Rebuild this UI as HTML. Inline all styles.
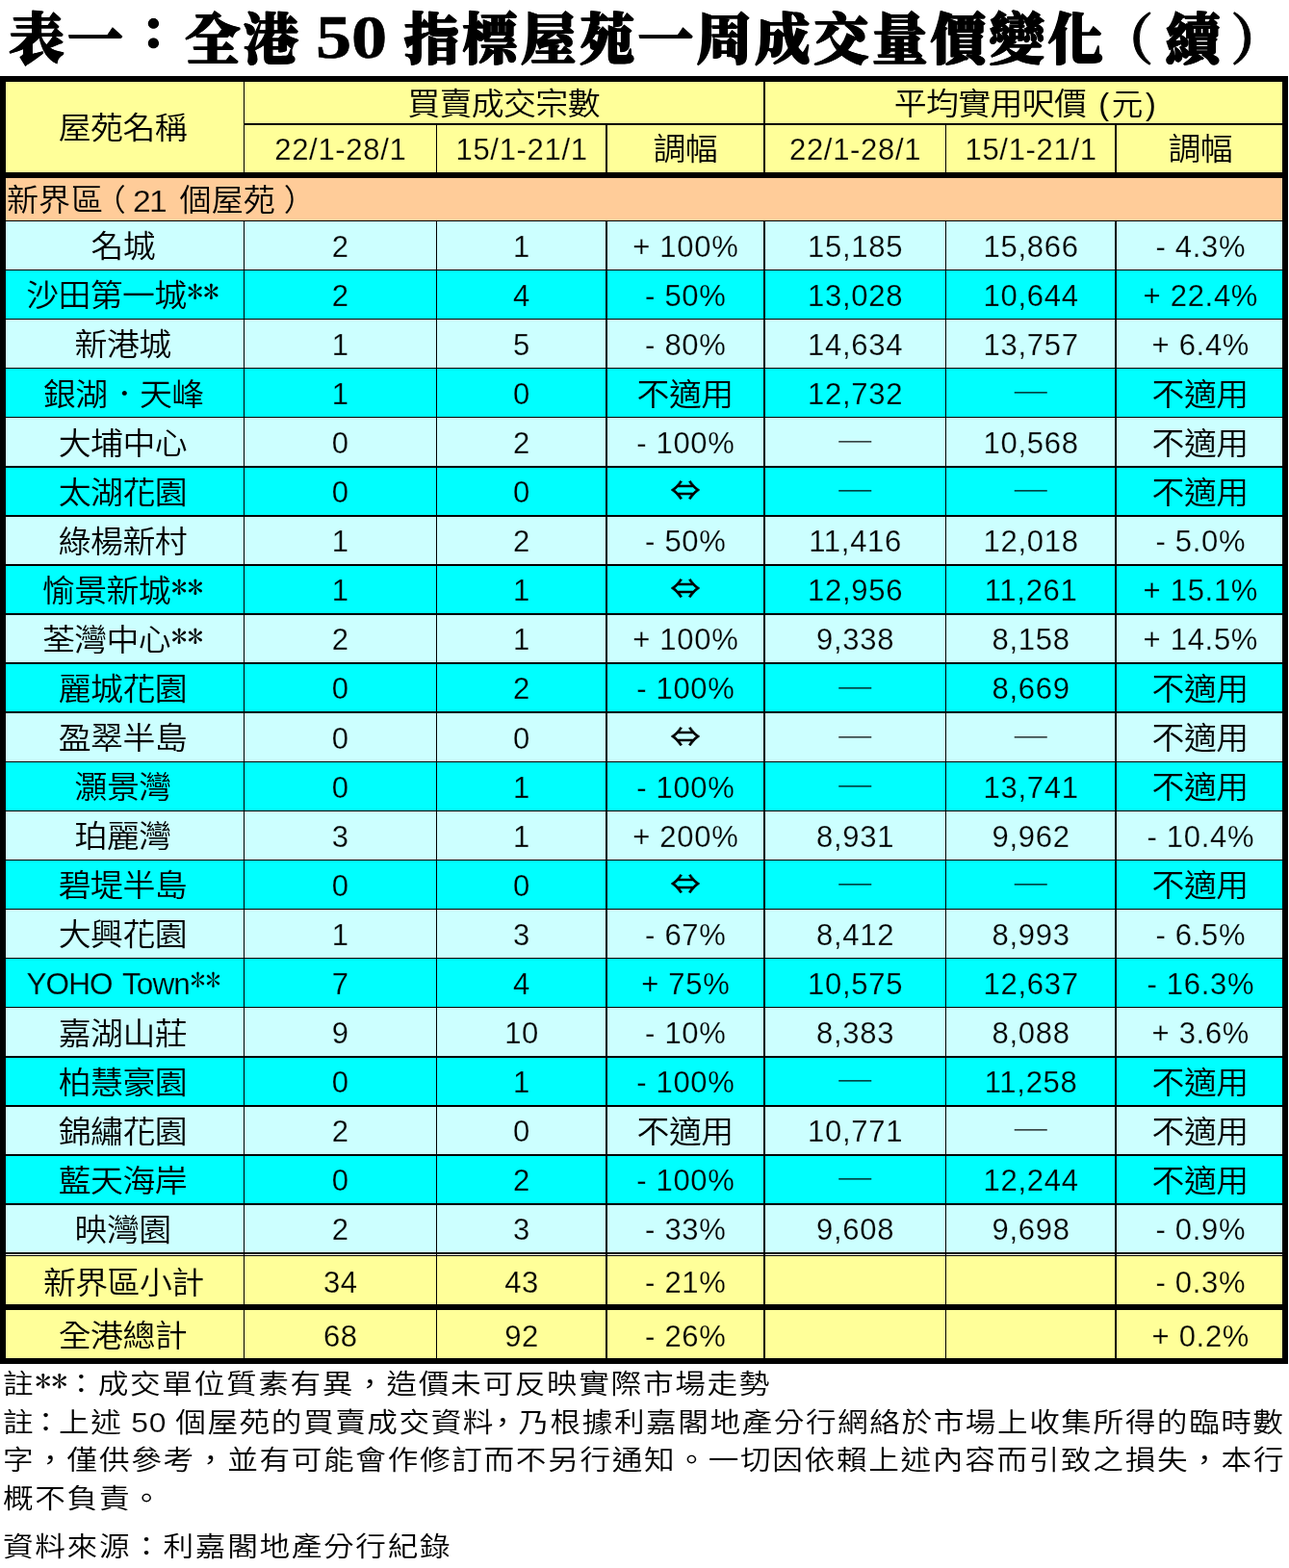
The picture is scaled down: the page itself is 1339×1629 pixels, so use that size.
<!DOCTYPE html>
<html lang="zh-Hant">
<head>
<meta charset="utf-8">
<title>表一：全港 50 指標屋苑一周成交量價變化（續）</title>
<style>
html,body{margin:0;padding:0;background:#fff;}
body{width:1339px;height:1629px;}
#page{position:relative;width:1339px;height:1629px;overflow:hidden;background:#fff;color:#000;
 font-family:"Liberation Sans","Noto Sans CJK TC","Noto Sans CJK SC",sans-serif;}
.grid{position:absolute;left:0;top:0;display:block;}
.title{position:absolute;top:2.5px;height:78px;white-space:nowrap;
 font-family:"Liberation Serif","Noto Serif CJK TC","Noto Serif CJK SC",serif;font-weight:900;font-size:57.3px;line-height:78px;
 letter-spacing:3.5px;-webkit-text-stroke:1.6px #000;text-shadow:0 1.1px 0 #000,0 -1.1px 0 #000;}
.t50{text-shadow:none;font-weight:700;font-size:64px;letter-spacing:0;-webkit-text-stroke:0.6px #000;transform:scaleX(1.16);transform-origin:0 50%;top:0;}
.c{position:absolute;display:flex;align-items:center;justify-content:center;white-space:nowrap;box-sizing:border-box;}
.c>span{display:inline-block;}
.c b{font-weight:400;font-family:"IPAGothic","Noto Sans CJK JP",sans-serif;font-size:32px;letter-spacing:0;position:relative;top:-3px;left:0;margin-left:.6px;}
.zh{font-size:32.3px;letter-spacing:-.6px;font-weight:350;}
.zh>span{margin-right:.6px;position:relative;top:-1.7px;transform:scaleX(1.05);}
.num{font-size:31px;letter-spacing:.7px;}
.num>span{position:relative;top:1.8px;margin-right:-.7px;}
.yoho{font-size:31.5px;letter-spacing:-.9px;word-spacing:3px;}
.dash{font-family:"WenQuanYi Zen Hei","Noto Sans CJK TC",sans-serif;font-size:34px;}
.dash>span{position:relative;top:-1px;}
.arr{font-family:"Noto Sans CJK TC","Noto Sans CJK SC","DejaVu Sans",sans-serif;font-size:31px;font-weight:400;}
.arr>span{position:relative;top:-2.6px;transform:scale(1.0,.92);-webkit-text-stroke:.5px #000;}
.sec{justify-content:flex-start;padding-left:1px;font-size:31.5px;letter-spacing:0;}
.sec>span{transform-origin:0 50%;}
.hd.zh>span{top:-2px;}
.hd.num>span{top:2px;}
.sec i{font-style:normal;font-size:32px;letter-spacing:-1.6px;margin:0 14px 0 -1.4px;position:relative;top:.5px;}
.sec u{text-decoration:none;position:relative;}
.title .col{position:relative;top:-5.5px;display:inline-block;transform:scale(.9,.8);letter-spacing:0;margin-right:3.5px;}
.title .par{position:relative;-webkit-text-stroke:1px #000;font-weight:700;text-shadow:none;}
.note{position:absolute;left:2.9px;white-space:nowrap;font-size:28.8px;line-height:40px;height:40px;font-weight:350;
 letter-spacing:1.48px;transform:scaleX(1.10);transform-origin:0 0;}
.note b{font-weight:400;font-family:"IPAGothic","Noto Sans CJK JP",sans-serif;font-size:31px;letter-spacing:0;position:relative;top:-2px;}
.note i{font-style:normal;font-family:"Liberation Sans",sans-serif;font-size:29px;letter-spacing:.8px;margin:0 -0.9px 0 -0.8px;}
.note .p1{margin:0 -3.6px 0 -4px;}
.note .p0{margin:0 0 0 -1.8px;}
.note .p2{margin:0 -1px 0 -7px;}
.note.l2{letter-spacing:1.36px;}
.c em{font-style:normal;letter-spacing:2.6px;margin-right:-7px;margin-left:1px;font-size:31px;}
.c .dot{display:inline-block;width:31.7px;text-align:center;font-size:23px;letter-spacing:0;position:relative;top:-3.4px;left:1px;}
.num.by>span{-webkit-text-stroke:.4px rgba(255,255,153,.55);}
.num.bl>span{-webkit-text-stroke:.4px rgba(204,255,255,.55);}
.num.bc>span{-webkit-text-stroke:.4px rgba(0,255,255,.55);}
.sec i{-webkit-text-stroke:.4px rgba(255,204,153,.55);}
.note i{-webkit-text-stroke:.4px rgba(255,255,255,.55);}
.c em{-webkit-text-stroke:0 transparent;}

</style>
</head>
<body>
<div id="page">
<svg class="grid" width="1339" height="1629" viewBox="0 0 1339 1629" shape-rendering="crispEdges">
<rect x="0" y="79" width="1338" height="1338" fill="#000"/>
<rect x="6" y="85" width="1326" height="94" fill="#FFFF99"/>
<rect x="6" y="185" width="1326" height="44" fill="#FFCC99"/>
<rect x="6" y="229" width="1326" height="51" fill="#CCFFFF"/>
<rect x="6" y="280" width="1326" height="51" fill="#00FFFF"/>
<rect x="6" y="331" width="1326" height="51" fill="#CCFFFF"/>
<rect x="6" y="382" width="1326" height="51" fill="#00FFFF"/>
<rect x="6" y="433" width="1326" height="51" fill="#CCFFFF"/>
<rect x="6" y="484" width="1326" height="51" fill="#00FFFF"/>
<rect x="6" y="535" width="1326" height="51" fill="#CCFFFF"/>
<rect x="6" y="586" width="1326" height="51" fill="#00FFFF"/>
<rect x="6" y="637" width="1326" height="51" fill="#CCFFFF"/>
<rect x="6" y="688" width="1326" height="51" fill="#00FFFF"/>
<rect x="6" y="739" width="1326" height="52" fill="#CCFFFF"/>
<rect x="6" y="791" width="1326" height="51" fill="#00FFFF"/>
<rect x="6" y="842" width="1326" height="51" fill="#CCFFFF"/>
<rect x="6" y="893" width="1326" height="51" fill="#00FFFF"/>
<rect x="6" y="944" width="1326" height="51" fill="#CCFFFF"/>
<rect x="6" y="995" width="1326" height="51" fill="#00FFFF"/>
<rect x="6" y="1046" width="1326" height="51" fill="#CCFFFF"/>
<rect x="6" y="1097" width="1326" height="51" fill="#00FFFF"/>
<rect x="6" y="1148" width="1326" height="51" fill="#CCFFFF"/>
<rect x="6" y="1199" width="1326" height="51" fill="#00FFFF"/>
<rect x="6" y="1250" width="1326" height="51" fill="#CCFFFF"/>
<rect x="6" y="1303" width="1326" height="1" fill="#FFFFF0"/>
<rect x="6" y="1305" width="1326" height="50" fill="#FFFF99"/>
<rect x="6" y="1361" width="1326" height="50" fill="#FFFF99"/>
<g fill="#000">
<rect x="253" y="128" width="1079" height="2"/>
<rect x="6" y="229" width="1326" height="1"/>
<rect x="6" y="280" width="1326" height="1"/>
<rect x="6" y="331" width="1326" height="1"/>
<rect x="6" y="382" width="1326" height="1"/>
<rect x="6" y="433" width="1326" height="1"/>
<rect x="6" y="484" width="1326" height="2"/>
<rect x="6" y="535" width="1326" height="2"/>
<rect x="6" y="586" width="1326" height="2"/>
<rect x="6" y="637" width="1326" height="2"/>
<rect x="6" y="688" width="1326" height="2"/>
<rect x="6" y="739" width="1326" height="2"/>
<rect x="6" y="791" width="1326" height="1"/>
<rect x="6" y="842" width="1326" height="1"/>
<rect x="6" y="893" width="1326" height="1"/>
<rect x="6" y="944" width="1326" height="1"/>
<rect x="6" y="995" width="1326" height="1"/>
<rect x="6" y="1046" width="1326" height="1"/>
<rect x="6" y="1097" width="1326" height="2"/>
<rect x="6" y="1148" width="1326" height="2"/>
<rect x="6" y="1199" width="1326" height="2"/>
<rect x="6" y="1250" width="1326" height="2"/>
<rect x="6" y="1301" width="1326" height="2"/>
<rect x="6" y="1304" width="1326" height="1"/>
<rect x="253" y="85" width="1" height="94"/>
<rect x="253" y="229" width="1" height="1182"/>
<rect x="453" y="128" width="1" height="51"/>
<rect x="453" y="229" width="1" height="1182"/>
<rect x="629" y="128" width="2" height="51"/>
<rect x="629" y="229" width="2" height="1182"/>
<rect x="793" y="85" width="2" height="94"/>
<rect x="793" y="229" width="2" height="1182"/>
<rect x="982" y="128" width="1" height="51"/>
<rect x="982" y="229" width="1" height="1182"/>
<rect x="1158" y="128" width="2" height="51"/>
<rect x="1158" y="229" width="2" height="1182"/>
</g>
</svg>
<div class="title" style="left:9.5px">表一<span class="col">：</span>全港</div>
<div class="title t50" style="left:328px">50</div>
<div class="title" style="left:419.5px">指標屋苑一周成交量價變化<span class="par" style="left:-8px">（</span>續<span class="par" style="left:7.5px">）</span></div>
<div class="note" style="top:1417px">註<b>**</b><span class="p0">：</span>成交單位質素有異，造價未可反映實際市場走勢</div>
<div class="note l2" style="top:1457.5px">註<span class="p1">：</span>上述<i> 50 </i>個屋苑的買賣成交資料<span class="p2">，</span>乃根據利嘉閣地產分行網絡於市場上收集所得的臨時數</div>
<div class="note" style="top:1496.5px">字，僅供參考，並有可能會作修訂而不另行通知。一切因依賴上述內容而引致之損失，本行</div>
<div class="note" style="top:1536.5px">概不負責。</div>
<div class="note" style="top:1587px">資料來源：利嘉閣地產分行紀錄</div>

<div class="c hd by zh" style="left:2.8px;top:85px;width:250.7px;height:94.2px"><span>屋苑名稱</span></div>
<div class="c hd by zh" style="left:253.5px;top:85px;width:540.5px;height:44px"><span>買賣成交宗數</span></div>
<div class="c hd by zh" style="left:794px;top:85px;width:538px;height:44px"><span>平均實用呎價<em> (元)</em></span></div>
<div class="c hd h2 by num" style="left:253.5px;top:129px;width:200px;height:50.2px"><span>22/1-28/1</span></div>
<div class="c hd h2 by num" style="left:453.5px;top:129px;width:176.5px;height:50.2px"><span>15/1-21/1</span></div>
<div class="c hd h2 by zh" style="left:630px;top:129px;width:164px;height:50.2px"><span>調幅</span></div>
<div class="c hd h2 by num" style="left:794px;top:129px;width:188.5px;height:50.2px"><span>22/1-28/1</span></div>
<div class="c hd h2 by num" style="left:982.5px;top:129px;width:176.5px;height:50.2px"><span>15/1-21/1</span></div>
<div class="c hd h2 by zh" style="left:1159px;top:129px;width:176px;height:50.2px"><span>調幅</span></div>
<div class="c zh sec" style="left:6px;top:184.9px;width:600px;height:44.52px"><span>新界<u style="left:.8px">區</u><u style="left:-8px">（</u><i>21</i>個屋苑<u style="left:8.5px">）</u></span></div>
<div class="c bl zh" style="left:2.8px;top:229.42px;width:250.7px;height:51.08px"><span>名城</span></div>
<div class="c bl num" style="left:253.5px;top:229.42px;width:200px;height:51.08px"><span>2</span></div>
<div class="c bl num" style="left:453.5px;top:229.42px;width:176.5px;height:51.08px"><span>1</span></div>
<div class="c bl num" style="left:630px;top:229.42px;width:164px;height:51.08px"><span>+ 100%</span></div>
<div class="c bl num" style="left:794px;top:229.42px;width:188.5px;height:51.08px"><span>15,185</span></div>
<div class="c bl num" style="left:982.5px;top:229.42px;width:176.5px;height:51.08px"><span>15,866</span></div>
<div class="c bl num" style="left:1159px;top:229.42px;width:176px;height:51.08px"><span>- 4.3%</span></div>
<div class="c bc zh" style="left:2.8px;top:280.5px;width:250.7px;height:51.08px"><span>沙田第一城<b>**</b></span></div>
<div class="c bc num" style="left:253.5px;top:280.5px;width:200px;height:51.08px"><span>2</span></div>
<div class="c bc num" style="left:453.5px;top:280.5px;width:176.5px;height:51.08px"><span>4</span></div>
<div class="c bc num" style="left:630px;top:280.5px;width:164px;height:51.08px"><span>- 50%</span></div>
<div class="c bc num" style="left:794px;top:280.5px;width:188.5px;height:51.08px"><span>13,028</span></div>
<div class="c bc num" style="left:982.5px;top:280.5px;width:176.5px;height:51.08px"><span>10,644</span></div>
<div class="c bc num" style="left:1159px;top:280.5px;width:176px;height:51.08px"><span>+ 22.4%</span></div>
<div class="c bl zh" style="left:2.8px;top:331.58px;width:250.7px;height:51.08px"><span>新港城</span></div>
<div class="c bl num" style="left:253.5px;top:331.58px;width:200px;height:51.08px"><span>1</span></div>
<div class="c bl num" style="left:453.5px;top:331.58px;width:176.5px;height:51.08px"><span>5</span></div>
<div class="c bl num" style="left:630px;top:331.58px;width:164px;height:51.08px"><span>- 80%</span></div>
<div class="c bl num" style="left:794px;top:331.58px;width:188.5px;height:51.08px"><span>14,634</span></div>
<div class="c bl num" style="left:982.5px;top:331.58px;width:176.5px;height:51.08px"><span>13,757</span></div>
<div class="c bl num" style="left:1159px;top:331.58px;width:176px;height:51.08px"><span>+ 6.4%</span></div>
<div class="c bc zh" style="left:2.8px;top:382.66px;width:250.7px;height:51.08px"><span>銀湖<span class="dot">‧</span>天峰</span></div>
<div class="c bc num" style="left:253.5px;top:382.66px;width:200px;height:51.08px"><span>1</span></div>
<div class="c bc num" style="left:453.5px;top:382.66px;width:176.5px;height:51.08px"><span>0</span></div>
<div class="c bc zh" style="left:630px;top:382.66px;width:164px;height:51.08px"><span>不適用</span></div>
<div class="c bc num" style="left:794px;top:382.66px;width:188.5px;height:51.08px"><span>12,732</span></div>
<div class="c bc dash" style="left:982.5px;top:382.66px;width:176.5px;height:51.08px"><span>—</span></div>
<div class="c bc zh" style="left:1159px;top:382.66px;width:176px;height:51.08px"><span>不適用</span></div>
<div class="c bl zh" style="left:2.8px;top:433.74px;width:250.7px;height:51.08px"><span>大埔中心</span></div>
<div class="c bl num" style="left:253.5px;top:433.74px;width:200px;height:51.08px"><span>0</span></div>
<div class="c bl num" style="left:453.5px;top:433.74px;width:176.5px;height:51.08px"><span>2</span></div>
<div class="c bl num" style="left:630px;top:433.74px;width:164px;height:51.08px"><span>- 100%</span></div>
<div class="c bl dash" style="left:794px;top:433.74px;width:188.5px;height:51.08px"><span>—</span></div>
<div class="c bl num" style="left:982.5px;top:433.74px;width:176.5px;height:51.08px"><span>10,568</span></div>
<div class="c bl zh" style="left:1159px;top:433.74px;width:176px;height:51.08px"><span>不適用</span></div>
<div class="c bc zh" style="left:2.8px;top:484.82px;width:250.7px;height:51.08px"><span>太湖花園</span></div>
<div class="c bc num" style="left:253.5px;top:484.82px;width:200px;height:51.08px"><span>0</span></div>
<div class="c bc num" style="left:453.5px;top:484.82px;width:176.5px;height:51.08px"><span>0</span></div>
<div class="c bc arr" style="left:630px;top:484.82px;width:164px;height:51.08px"><span>⇔</span></div>
<div class="c bc dash" style="left:794px;top:484.82px;width:188.5px;height:51.08px"><span>—</span></div>
<div class="c bc dash" style="left:982.5px;top:484.82px;width:176.5px;height:51.08px"><span>—</span></div>
<div class="c bc zh" style="left:1159px;top:484.82px;width:176px;height:51.08px"><span>不適用</span></div>
<div class="c bl zh" style="left:2.8px;top:535.9px;width:250.7px;height:51.08px"><span>綠楊新村</span></div>
<div class="c bl num" style="left:253.5px;top:535.9px;width:200px;height:51.08px"><span>1</span></div>
<div class="c bl num" style="left:453.5px;top:535.9px;width:176.5px;height:51.08px"><span>2</span></div>
<div class="c bl num" style="left:630px;top:535.9px;width:164px;height:51.08px"><span>- 50%</span></div>
<div class="c bl num" style="left:794px;top:535.9px;width:188.5px;height:51.08px"><span>11,416</span></div>
<div class="c bl num" style="left:982.5px;top:535.9px;width:176.5px;height:51.08px"><span>12,018</span></div>
<div class="c bl num" style="left:1159px;top:535.9px;width:176px;height:51.08px"><span>- 5.0%</span></div>
<div class="c bc zh" style="left:2.8px;top:586.98px;width:250.7px;height:51.08px"><span>愉景新城<b>**</b></span></div>
<div class="c bc num" style="left:253.5px;top:586.98px;width:200px;height:51.08px"><span>1</span></div>
<div class="c bc num" style="left:453.5px;top:586.98px;width:176.5px;height:51.08px"><span>1</span></div>
<div class="c bc arr" style="left:630px;top:586.98px;width:164px;height:51.08px"><span>⇔</span></div>
<div class="c bc num" style="left:794px;top:586.98px;width:188.5px;height:51.08px"><span>12,956</span></div>
<div class="c bc num" style="left:982.5px;top:586.98px;width:176.5px;height:51.08px"><span>11,261</span></div>
<div class="c bc num" style="left:1159px;top:586.98px;width:176px;height:51.08px"><span>+ 15.1%</span></div>
<div class="c bl zh" style="left:2.8px;top:638.06px;width:250.7px;height:51.08px"><span>荃灣中心<b>**</b></span></div>
<div class="c bl num" style="left:253.5px;top:638.06px;width:200px;height:51.08px"><span>2</span></div>
<div class="c bl num" style="left:453.5px;top:638.06px;width:176.5px;height:51.08px"><span>1</span></div>
<div class="c bl num" style="left:630px;top:638.06px;width:164px;height:51.08px"><span>+ 100%</span></div>
<div class="c bl num" style="left:794px;top:638.06px;width:188.5px;height:51.08px"><span>9,338</span></div>
<div class="c bl num" style="left:982.5px;top:638.06px;width:176.5px;height:51.08px"><span>8,158</span></div>
<div class="c bl num" style="left:1159px;top:638.06px;width:176px;height:51.08px"><span>+ 14.5%</span></div>
<div class="c bc zh" style="left:2.8px;top:689.14px;width:250.7px;height:51.08px"><span>麗城花園</span></div>
<div class="c bc num" style="left:253.5px;top:689.14px;width:200px;height:51.08px"><span>0</span></div>
<div class="c bc num" style="left:453.5px;top:689.14px;width:176.5px;height:51.08px"><span>2</span></div>
<div class="c bc num" style="left:630px;top:689.14px;width:164px;height:51.08px"><span>- 100%</span></div>
<div class="c bc dash" style="left:794px;top:689.14px;width:188.5px;height:51.08px"><span>—</span></div>
<div class="c bc num" style="left:982.5px;top:689.14px;width:176.5px;height:51.08px"><span>8,669</span></div>
<div class="c bc zh" style="left:1159px;top:689.14px;width:176px;height:51.08px"><span>不適用</span></div>
<div class="c bl zh" style="left:2.8px;top:740.22px;width:250.7px;height:51.08px"><span>盈翠半島</span></div>
<div class="c bl num" style="left:253.5px;top:740.22px;width:200px;height:51.08px"><span>0</span></div>
<div class="c bl num" style="left:453.5px;top:740.22px;width:176.5px;height:51.08px"><span>0</span></div>
<div class="c bl arr" style="left:630px;top:740.22px;width:164px;height:51.08px"><span>⇔</span></div>
<div class="c bl dash" style="left:794px;top:740.22px;width:188.5px;height:51.08px"><span>—</span></div>
<div class="c bl dash" style="left:982.5px;top:740.22px;width:176.5px;height:51.08px"><span>—</span></div>
<div class="c bl zh" style="left:1159px;top:740.22px;width:176px;height:51.08px"><span>不適用</span></div>
<div class="c bc zh" style="left:2.8px;top:791.3px;width:250.7px;height:51.08px"><span>灝景灣</span></div>
<div class="c bc num" style="left:253.5px;top:791.3px;width:200px;height:51.08px"><span>0</span></div>
<div class="c bc num" style="left:453.5px;top:791.3px;width:176.5px;height:51.08px"><span>1</span></div>
<div class="c bc num" style="left:630px;top:791.3px;width:164px;height:51.08px"><span>- 100%</span></div>
<div class="c bc dash" style="left:794px;top:791.3px;width:188.5px;height:51.08px"><span>—</span></div>
<div class="c bc num" style="left:982.5px;top:791.3px;width:176.5px;height:51.08px"><span>13,741</span></div>
<div class="c bc zh" style="left:1159px;top:791.3px;width:176px;height:51.08px"><span>不適用</span></div>
<div class="c bl zh" style="left:2.8px;top:842.38px;width:250.7px;height:51.08px"><span>珀麗灣</span></div>
<div class="c bl num" style="left:253.5px;top:842.38px;width:200px;height:51.08px"><span>3</span></div>
<div class="c bl num" style="left:453.5px;top:842.38px;width:176.5px;height:51.08px"><span>1</span></div>
<div class="c bl num" style="left:630px;top:842.38px;width:164px;height:51.08px"><span>+ 200%</span></div>
<div class="c bl num" style="left:794px;top:842.38px;width:188.5px;height:51.08px"><span>8,931</span></div>
<div class="c bl num" style="left:982.5px;top:842.38px;width:176.5px;height:51.08px"><span>9,962</span></div>
<div class="c bl num" style="left:1159px;top:842.38px;width:176px;height:51.08px"><span>- 10.4%</span></div>
<div class="c bc zh" style="left:2.8px;top:893.46px;width:250.7px;height:51.08px"><span>碧堤半島</span></div>
<div class="c bc num" style="left:253.5px;top:893.46px;width:200px;height:51.08px"><span>0</span></div>
<div class="c bc num" style="left:453.5px;top:893.46px;width:176.5px;height:51.08px"><span>0</span></div>
<div class="c bc arr" style="left:630px;top:893.46px;width:164px;height:51.08px"><span>⇔</span></div>
<div class="c bc dash" style="left:794px;top:893.46px;width:188.5px;height:51.08px"><span>—</span></div>
<div class="c bc dash" style="left:982.5px;top:893.46px;width:176.5px;height:51.08px"><span>—</span></div>
<div class="c bc zh" style="left:1159px;top:893.46px;width:176px;height:51.08px"><span>不適用</span></div>
<div class="c bl zh" style="left:2.8px;top:944.54px;width:250.7px;height:51.08px"><span>大興花園</span></div>
<div class="c bl num" style="left:253.5px;top:944.54px;width:200px;height:51.08px"><span>1</span></div>
<div class="c bl num" style="left:453.5px;top:944.54px;width:176.5px;height:51.08px"><span>3</span></div>
<div class="c bl num" style="left:630px;top:944.54px;width:164px;height:51.08px"><span>- 67%</span></div>
<div class="c bl num" style="left:794px;top:944.54px;width:188.5px;height:51.08px"><span>8,412</span></div>
<div class="c bl num" style="left:982.5px;top:944.54px;width:176.5px;height:51.08px"><span>8,993</span></div>
<div class="c bl num" style="left:1159px;top:944.54px;width:176px;height:51.08px"><span>- 6.5%</span></div>
<div class="c bc num yoho" style="left:2.8px;top:995.62px;width:250.7px;height:51.08px"><span>YOHO Town<b>**</b></span></div>
<div class="c bc num" style="left:253.5px;top:995.62px;width:200px;height:51.08px"><span>7</span></div>
<div class="c bc num" style="left:453.5px;top:995.62px;width:176.5px;height:51.08px"><span>4</span></div>
<div class="c bc num" style="left:630px;top:995.62px;width:164px;height:51.08px"><span>+ 75%</span></div>
<div class="c bc num" style="left:794px;top:995.62px;width:188.5px;height:51.08px"><span>10,575</span></div>
<div class="c bc num" style="left:982.5px;top:995.62px;width:176.5px;height:51.08px"><span>12,637</span></div>
<div class="c bc num" style="left:1159px;top:995.62px;width:176px;height:51.08px"><span>- 16.3%</span></div>
<div class="c bl zh" style="left:2.8px;top:1046.7px;width:250.7px;height:51.08px"><span>嘉湖山莊</span></div>
<div class="c bl num" style="left:253.5px;top:1046.7px;width:200px;height:51.08px"><span>9</span></div>
<div class="c bl num" style="left:453.5px;top:1046.7px;width:176.5px;height:51.08px"><span>10</span></div>
<div class="c bl num" style="left:630px;top:1046.7px;width:164px;height:51.08px"><span>- 10%</span></div>
<div class="c bl num" style="left:794px;top:1046.7px;width:188.5px;height:51.08px"><span>8,383</span></div>
<div class="c bl num" style="left:982.5px;top:1046.7px;width:176.5px;height:51.08px"><span>8,088</span></div>
<div class="c bl num" style="left:1159px;top:1046.7px;width:176px;height:51.08px"><span>+ 3.6%</span></div>
<div class="c bc zh" style="left:2.8px;top:1097.78px;width:250.7px;height:51.08px"><span>柏慧豪園</span></div>
<div class="c bc num" style="left:253.5px;top:1097.78px;width:200px;height:51.08px"><span>0</span></div>
<div class="c bc num" style="left:453.5px;top:1097.78px;width:176.5px;height:51.08px"><span>1</span></div>
<div class="c bc num" style="left:630px;top:1097.78px;width:164px;height:51.08px"><span>- 100%</span></div>
<div class="c bc dash" style="left:794px;top:1097.78px;width:188.5px;height:51.08px"><span>—</span></div>
<div class="c bc num" style="left:982.5px;top:1097.78px;width:176.5px;height:51.08px"><span>11,258</span></div>
<div class="c bc zh" style="left:1159px;top:1097.78px;width:176px;height:51.08px"><span>不適用</span></div>
<div class="c bl zh" style="left:2.8px;top:1148.86px;width:250.7px;height:51.08px"><span>錦繡花園</span></div>
<div class="c bl num" style="left:253.5px;top:1148.86px;width:200px;height:51.08px"><span>2</span></div>
<div class="c bl num" style="left:453.5px;top:1148.86px;width:176.5px;height:51.08px"><span>0</span></div>
<div class="c bl zh" style="left:630px;top:1148.86px;width:164px;height:51.08px"><span>不適用</span></div>
<div class="c bl num" style="left:794px;top:1148.86px;width:188.5px;height:51.08px"><span>10,771</span></div>
<div class="c bl dash" style="left:982.5px;top:1148.86px;width:176.5px;height:51.08px"><span>—</span></div>
<div class="c bl zh" style="left:1159px;top:1148.86px;width:176px;height:51.08px"><span>不適用</span></div>
<div class="c bc zh" style="left:2.8px;top:1199.94px;width:250.7px;height:51.08px"><span>藍天海岸</span></div>
<div class="c bc num" style="left:253.5px;top:1199.94px;width:200px;height:51.08px"><span>0</span></div>
<div class="c bc num" style="left:453.5px;top:1199.94px;width:176.5px;height:51.08px"><span>2</span></div>
<div class="c bc num" style="left:630px;top:1199.94px;width:164px;height:51.08px"><span>- 100%</span></div>
<div class="c bc dash" style="left:794px;top:1199.94px;width:188.5px;height:51.08px"><span>—</span></div>
<div class="c bc num" style="left:982.5px;top:1199.94px;width:176.5px;height:51.08px"><span>12,244</span></div>
<div class="c bc zh" style="left:1159px;top:1199.94px;width:176px;height:51.08px"><span>不適用</span></div>
<div class="c bl zh" style="left:2.8px;top:1251.02px;width:250.7px;height:51.08px"><span>映灣園</span></div>
<div class="c bl num" style="left:253.5px;top:1251.02px;width:200px;height:51.08px"><span>2</span></div>
<div class="c bl num" style="left:453.5px;top:1251.02px;width:176.5px;height:51.08px"><span>3</span></div>
<div class="c bl num" style="left:630px;top:1251.02px;width:164px;height:51.08px"><span>- 33%</span></div>
<div class="c bl num" style="left:794px;top:1251.02px;width:188.5px;height:51.08px"><span>9,608</span></div>
<div class="c bl num" style="left:982.5px;top:1251.02px;width:176.5px;height:51.08px"><span>9,698</span></div>
<div class="c bl num" style="left:1159px;top:1251.02px;width:176px;height:51.08px"><span>- 0.9%</span></div>
<div class="c by zh" style="left:2.8px;top:1307.6px;width:250.7px;height:47.6px"><span>新界區小計</span></div>
<div class="c by num" style="left:253.5px;top:1307.6px;width:200px;height:47.6px"><span>34</span></div>
<div class="c by num" style="left:453.5px;top:1307.6px;width:176.5px;height:47.6px"><span>43</span></div>
<div class="c by num" style="left:630px;top:1307.6px;width:164px;height:47.6px"><span>- 21%</span></div>
<div class="c by num" style="left:1159px;top:1307.6px;width:176px;height:47.6px"><span>- 0.3%</span></div>
<div class="c by zh" style="left:2.8px;top:1362.6px;width:250.7px;height:48.6px"><span>全港總計</span></div>
<div class="c by num" style="left:253.5px;top:1362.6px;width:200px;height:48.6px"><span>68</span></div>
<div class="c by num" style="left:453.5px;top:1362.6px;width:176.5px;height:48.6px"><span>92</span></div>
<div class="c by num" style="left:630px;top:1362.6px;width:164px;height:48.6px"><span>- 26%</span></div>
<div class="c by num" style="left:1159px;top:1362.6px;width:176px;height:48.6px"><span>+ 0.2%</span></div>
</div>
</body>
</html>
